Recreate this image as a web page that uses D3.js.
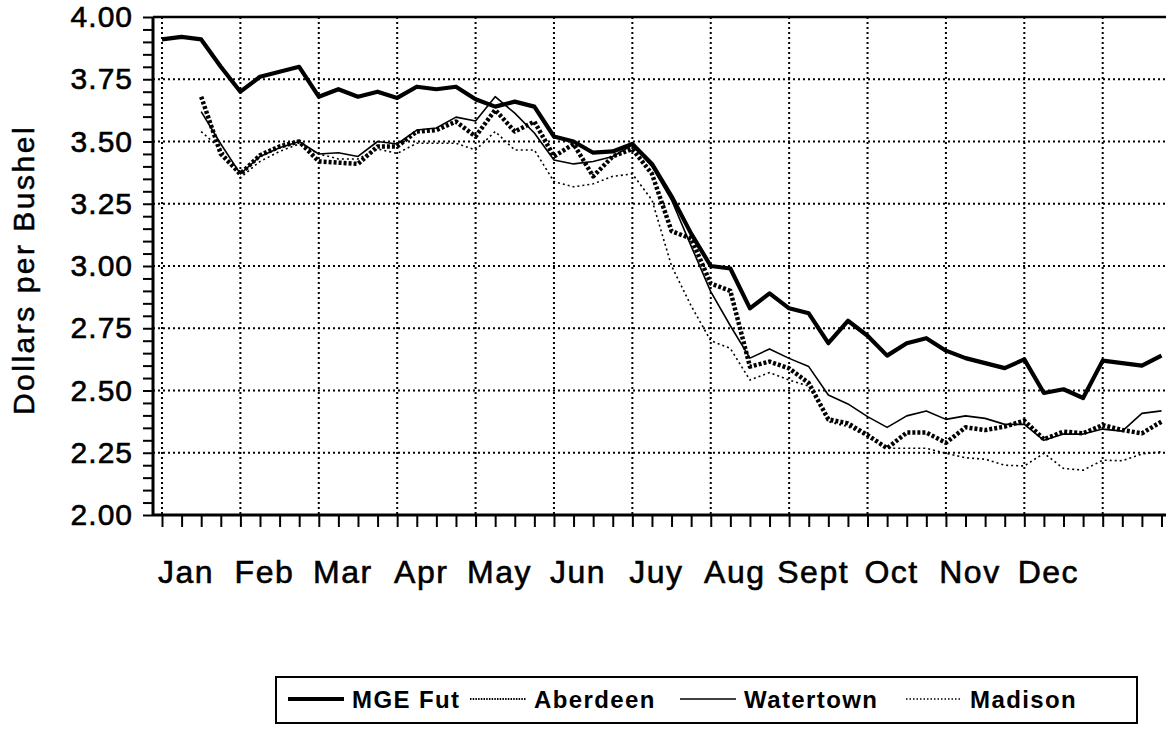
<!DOCTYPE html>
<html>
<head>
<meta charset="utf-8">
<script src="https://cdn.jsdelivr.net/npm/d3@7"></script>
<style>
  body { margin: 0; background: #fff; }
  svg { display: block; }
  text { font-family: "Liberation Sans", Arial, Helvetica, sans-serif; fill: #000; }
</style>
</head>
<body>
<script>

// weekly prices, Jan .. Dec (52 weeks)
var months = ["Jan", "Feb", "Mar", "Apr", "May", "Jun", "Juy", "Aug", "Sept", "Oct", "Nov", "Dec"];

var mgeFut = [3.91, 3.92, 3.91, 3.80, 3.70, 3.76, 3.78, 3.80, 3.68, 3.71, 3.68, 3.70, 3.675,
	3.72, 3.71, 3.72, 3.67, 3.64, 3.66, 3.64, 3.52, 3.50, 3.455, 3.46, 3.49, 3.41, 3.28, 3.13,
	3.00, 2.99, 2.83, 2.89, 2.83, 2.81, 2.69, 2.78, 2.72, 2.64, 2.69, 2.71, 2.66, 2.63,
	2.61, 2.59, 2.625, 2.49, 2.505, 2.47, 2.62, 2.61, 2.60, 2.64];

var aberdeen = [null, null, 3.68, 3.45, 3.37, 3.445, 3.48, 3.50, 3.42, 3.415, 3.41, 3.48, 3.48,
	3.54, 3.546, 3.58, 3.52, 3.627, 3.54, 3.58, 3.44, 3.49, 3.36, 3.44, 3.47, 3.37, 3.14, 3.11,
	2.93, 2.90, 2.596, 2.616, 2.589, 2.53, 2.384, 2.368, 2.321, 2.268, 2.331, 2.331, 2.29, 2.352,
	2.341, 2.355, 2.379, 2.304, 2.335, 2.328, 2.361, 2.341, 2.328, 2.375];

var watertown = [null, null, 3.62, 3.49, 3.37, 3.44, 3.475, 3.50, 3.45, 3.455, 3.44, 3.50, 3.49,
	3.546, 3.554, 3.598, 3.582, 3.68, 3.614, 3.534, 3.426, 3.41, 3.42, 3.44, 3.486, 3.40, 3.265, 3.08,
	2.897, 2.76, 2.63, 2.667, 2.629, 2.596, 2.482, 2.446, 2.395, 2.352, 2.398, 2.418, 2.384, 2.398,
	2.388, 2.364, 2.364, 2.30, 2.325, 2.325, 2.345, 2.337, 2.408, 2.418];

var madison = [null, null, 3.54, 3.47, 3.355, 3.42, 3.46, 3.49, 3.45, 3.43, 3.43, 3.47, 3.452,
	3.493, 3.493, 3.493, 3.466, 3.54, 3.466, 3.466, 3.339, 3.318, 3.33, 3.36, 3.37, 3.265, 3.00, 2.84,
	2.70, 2.669, 2.542, 2.572, 2.542, 2.518, 2.375, 2.355, 2.314, 2.268, 2.268, 2.268, 2.248, 2.23,
	2.224, 2.20, 2.197, 2.248, 2.187, 2.18, 2.22, 2.218, 2.245, 2.254];

var seriesNames = ["MGE Fut", "Aberdeen", "Watertown", "Madison"];

var width = 1166;
var height = 734;

var svg = d3.select("body")
	.append("svg")
	.attr("width", width)
	.attr("height", height);

// plot box
var plotLeft = 153, plotTop = 17, plotRight = 1166, plotBottom = 515;

var x = d3.scaleLinear()
	.domain([0, 51])
	.range([162, 1161.5]);

var y = d3.scaleLinear()
	.domain([2, 4])
	.range([plotBottom, plotTop]);

// dotted grid
var gridY = [2.25, 2.5, 2.75, 3.0, 3.25, 3.5, 3.75];
svg.append("g").selectAll("line")
	.data(gridY)
	.enter()
	.append("line")
	.attr("x1", plotLeft).attr("x2", plotRight)
	.attr("y1", function(d){ return y(d); })
	.attr("y2", function(d){ return y(d); })
	.attr("stroke", "#000")
	.attr("stroke-width", 2)
	.attr("stroke-dasharray", "2,3");

var gridX = d3.range(0, 52, 4);
svg.append("g").selectAll("line")
	.data(gridX)
	.enter()
	.append("line")
	.attr("x1", function(d){ return x(d); })
	.attr("x2", function(d){ return x(d); })
	.attr("y1", plotTop).attr("y2", plotBottom)
	.attr("stroke", "#000")
	.attr("stroke-width", 2)
	.attr("stroke-dasharray", "2,3");

// top border
svg.append("line")
	.attr("x1", plotLeft).attr("x2", plotRight)
	.attr("y1", plotTop).attr("y2", plotTop)
	.attr("stroke", "#000")
	.attr("stroke-width", 2.5);

// y axis, ticks every 0.05
var yTicks = d3.range(0, 41).map(function(i){ return 2 + i * 0.05; });
var yAxis = svg.append("g")
	.attr("transform", "translate(" + plotLeft + ",0)")
	.call(d3.axisLeft(y)
		.tickValues(yTicks)
		.tickSize(10)
		.tickPadding(10)
		.tickFormat(function(d, i){ return i % 5 === 0 ? d.toFixed(2) : ""; }));
yAxis.select(".domain").attr("stroke-width", 3).attr("d", "M0," + plotTop + "V" + plotBottom);
yAxis.selectAll(".tick line").attr("stroke-width", 2);
yAxis.selectAll("text")
	.attr("fill", "#000")
	.attr("stroke", "#000")
	.attr("stroke-width", 0.6)
	.style("font-size", "30px")
	.style("letter-spacing", "1px")
	.style("font-family", "'Liberation Sans', Arial, sans-serif");

// x axis, weekly ticks
var xAxis = svg.append("g")
	.attr("transform", "translate(0," + plotBottom + ")")
	.call(d3.axisBottom(x)
		.tickValues(d3.range(0, 52))
		.tickSize(12)
		.tickFormat(""));
xAxis.select(".domain").attr("stroke-width", 3).attr("d", "M" + plotLeft + ",0H" + plotRight);
xAxis.selectAll(".tick line").attr("stroke-width", 2);

// month labels
var monthAxis = svg.append("g")
	.attr("transform", "translate(0," + plotBottom + ")")
	.call(d3.axisBottom(x)
		.tickValues(months.map(function(m, i){ return i * 4 + 1.2; }))
		.tickSize(0)
		.tickPadding(45)
		.tickFormat(function(d, i){ return months[i]; }));
monthAxis.select(".domain").remove();
monthAxis.selectAll("text")
	.attr("fill", "#000")
	.attr("stroke", "#000")
	.attr("stroke-width", 0.6)
	.style("font-size", "32px")
	.style("letter-spacing", "1.5px")
	.style("font-family", "'Liberation Sans', Arial, sans-serif");

// y title
svg.append("text")
	.attr("transform", "translate(34,270) rotate(-90)")
	.attr("text-anchor", "middle")
	.attr("stroke", "#000")
	.attr("stroke-width", 0.5)
	.style("font-size", "30px")
	.style("letter-spacing", "2.5px")
	.text("Dollars per Bushel");

// lines
var styles = [
	{ w: 4.2, dash: null },
	{ w: 4.5, dash: "3,2" },
	{ w: 1.6, dash: null },
	{ w: 1.6, dash: "2,3" }
];
var allSeries = [mgeFut, aberdeen, watertown, madison];

var line = d3.line()
	.defined(function(d){ return d != null; })
	.x(function(d, i){ return x(i); })
	.y(function(d){ return y(d); });

svg.append("g").selectAll("path")
	.data(allSeries)
	.enter()
	.append("path")
	.attr("d", line)
	.attr("fill", "none")
	.attr("stroke", "#000")
	.attr("stroke-linejoin", "round")
	.attr("stroke-width", function(d, i){ return styles[i].w; })
	.attr("stroke-dasharray", function(d, i){ return styles[i].dash; });

// legend
var legend = svg.append("g");
legend.append("rect")
	.attr("x", 276).attr("y", 677)
	.attr("width", 861).attr("height", 46)
	.attr("fill", "none")
	.attr("stroke", "#000")
	.attr("stroke-width", 2);

var legendX = [288, 470, 680, 906];
var legendStyles = [
	{ w: 4.2, dash: null },
	{ w: 2, dash: "1.5,1.2" },
	{ w: 1.6, dash: null },
	{ w: 1.3, dash: "1.5,2" }
];
seriesNames.forEach(function(name, i){
	legend.append("line")
		.attr("x1", legendX[i]).attr("x2", legendX[i] + 56)
		.attr("y1", 699).attr("y2", 699)
		.attr("stroke", "#000")
		.attr("stroke-width", legendStyles[i].w)
		.attr("stroke-dasharray", legendStyles[i].dash);
	legend.append("text")
		.attr("x", legendX[i] + 64)
		.attr("y", 708)
		.style("font-size", "24px")
		.style("font-weight", "bold")
		.style("letter-spacing", "1.4px")
		.text(name);
});

</script>
</body>
</html>
